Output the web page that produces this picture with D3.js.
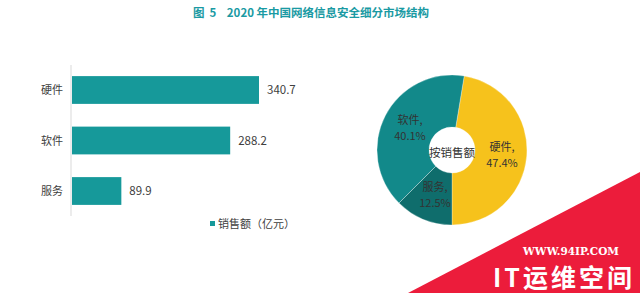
<!DOCTYPE html>
<html>
<head>
<meta charset="utf-8">
<script src="https://cdn.jsdelivr.net/npm/d3@7"></script>
<style>
body { margin: 0; background: #fff; }
svg { display: block; font-family: "Noto Sans CJK SC", "Noto Sans", sans-serif; }
</style>
</head>
<body>
<script>
const categories = ['硬件', '软件', '服务']
const sales = [340.7, 288.2, 89.9]
const pieNames = ['硬件', '服务', '软件']
const pieShares = [47.4, 12.5, 40.1]
const pieColors = ['#f6c21c', '#0f6d6c', '#12898a']
const titleText = '图  5    2020 年中国网络信息安全细分市场结构'
const legendText = '销售额（亿元）'
const centerText = '按销售额'

const width = 640, height = 293

const svg = d3.select('body').append('svg')
    .attr('width', width)
    .attr('height', height)

// title
svg.append('text')
    .attr('x', 311).attr('y', 17)
    .attr('text-anchor', 'middle')
    .style('white-space', 'pre')
    .style('font-size', '11.5px')
    .style('font-weight', 'bold')
    .style('fill', '#1a9aa3')
    .text(titleText)

// bar chart
const x = d3.scaleLinear().domain([0, 340.7]).range([72, 259])
const y = d3.scaleBand().domain(categories).range([65, 216]).paddingInner(0.45).paddingOuter(0.22)

svg.append('line')
    .attr('x1', 71).attr('x2', 71)
    .attr('y1', 65).attr('y2', 216)
    .style('stroke', '#d9d9d9')

svg.selectAll('.bar')
    .data(categories)
    .join('rect')
    .attr('class', 'bar')
    .attr('x', x(0))
    .attr('y', d => y(d))
    .attr('width', (d, i) => x(sales[i]) - x(0))
    .attr('height', y.bandwidth())
    .style('fill', '#16999a')

svg.selectAll('.cat')
    .data(categories)
    .join('text')
    .attr('class', 'cat')
    .attr('x', 63)
    .attr('y', d => y(d) + y.bandwidth() / 2 + 4)
    .attr('text-anchor', 'end')
    .style('font-size', '11px')
    .style('fill', '#404040')
    .text(d => d)

svg.selectAll('.val')
    .data(categories)
    .join('text')
    .attr('class', 'val')
    .attr('x', (d, i) => x(sales[i]) + 8)
    .attr('y', d => y(d) + y.bandwidth() / 2 + 4)
    .style('font-size', '11.5px')
    .style('fill', '#404040')
    .text((d, i) => sales[i].toFixed(1))

// legend
svg.append('rect')
    .attr('x', 210).attr('y', 221)
    .attr('width', 5).attr('height', 5)
    .style('fill', '#16999a')
svg.append('text')
    .attr('x', 218).attr('y', 228)
    .style('font-size', '11px')
    .style('fill', '#404040')
    .text(legendText)

// donut
const cx = 452, cy = 150
const pie = d3.pie().sort(null)
    .startAngle((180 - pieShares[0] * 3.6) * Math.PI / 180)
    .endAngle((180 - pieShares[0] * 3.6) * Math.PI / 180 + 2 * Math.PI)
const arcs = pie(pieShares)
const arc = d3.arc().innerRadius(23).outerRadius(75)

const g = svg.append('g').attr('transform', `translate(${cx},${cy})`)
g.selectAll('path')
    .data(arcs)
    .join('path')
    .attr('d', arc)
    .style('fill', (d, i) => pieColors[i])
    .style('stroke', '#fff')
    .style('stroke-width', 0.3)

const labelPos = [[50, 5], [-17, 45], [-42, -22]]
arcs.forEach((d, i) => {
    const t = g.append('text')
        .attr('text-anchor', 'middle')
        .style('font-size', '11px')
        .style('fill', '#333')
    t.append('tspan').attr('x', labelPos[i][0]).attr('y', labelPos[i][1] - 4).text(pieNames[i] + ',')
    t.append('tspan').attr('x', labelPos[i][0]).attr('y', labelPos[i][1] + 12).text(pieShares[i].toFixed(1) + '%')
})

g.append('text')
    .attr('text-anchor', 'middle')
    .attr('y', 7)
    .style('font-size', '11.5px')
    .style('fill', '#333')
    .text(centerText)

// watermark corner
svg.append('polygon')
    .attr('points', '640,172 640,293 408,293')
    .style('fill', '#ec1c3b')
svg.append('text')
    .attr('x', 571).attr('y', 255)
    .attr('text-anchor', 'middle')
    .style('font-family', '"DejaVu Serif", serif')
    .style('font-weight', 'bold')
    .style('font-size', '10.5px')
    .style('fill', '#fff')
    .text('WWW.94IP.COM')
svg.append('text')
    .attr('x', 564).attr('y', 287)
    .attr('text-anchor', 'middle')
    .style('font-weight', 'bold')
    .style('font-size', '25px')
    .style('letter-spacing', '3px')
    .style('fill', '#fff')
    .text('IT运维空间')
</script>
</body>
</html>
